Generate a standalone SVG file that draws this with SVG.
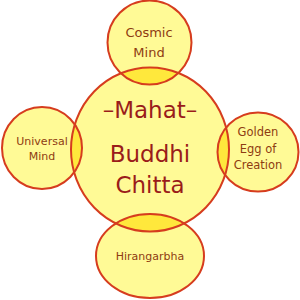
<svg xmlns="http://www.w3.org/2000/svg" width="300" height="300" viewBox="0 0 300 300">
  <style>
    .fill { fill: #FFFA96; stroke: none; }
    .lens { fill: #FFE83C; stroke: none; }
    .ring { fill: none; stroke: #D63C1E; stroke-width: 2; }
    .small { font-family: "DejaVu Sans", "Liberation Sans", sans-serif; fill: #8E3C12; text-anchor: middle; }
    .big { font-family: "DejaVu Sans", "Liberation Sans", sans-serif; fill: #9A1C1A; text-anchor: middle; }
  </style>
  <defs>
    <clipPath id="clipCenter"><ellipse cx="150" cy="149.5" rx="79" ry="82"/></clipPath>
  </defs>
  <rect width="300" height="300" fill="#FFFFFF"/>

  <!-- fills -->
  <g id="fills">
    <ellipse class="fill" cx="150" cy="149.5" rx="79" ry="82"/>
    <circle class="fill" cx="149.5" cy="42.5" r="42"/>
    <ellipse class="fill" cx="42" cy="148" rx="40" ry="41"/>
    <ellipse class="fill" cx="258" cy="152" rx="40.5" ry="39.5"/>
    <ellipse class="fill" cx="150" cy="256" rx="54" ry="42"/>
  </g>

  <!-- overlap lenses -->
  <g id="overlaps" clip-path="url(#clipCenter)">
    <circle class="lens" cx="149.5" cy="42.5" r="42"/>
    <ellipse class="lens" cx="42" cy="148" rx="40" ry="41"/>
    <ellipse class="lens" cx="258" cy="152" rx="40.5" ry="39.5"/>
    <ellipse class="lens" cx="150" cy="256" rx="54" ry="42"/>
  </g>

  <g id="mahat">
    <ellipse class="ring" cx="150" cy="149.5" rx="79" ry="82"/>
    <text class="big" x="150" y="118" font-size="23">–Mahat–</text>
    <text class="big" x="150" y="162" font-size="23">Buddhi</text>
    <text class="big" x="150" y="193" font-size="23">Chitta</text>
  </g>

  <g id="cosmic-mind">
    <circle class="ring" cx="149.5" cy="42.5" r="42"/>
    <text class="small" x="149" y="37" font-size="13">Cosmic</text>
    <text class="small" x="149" y="57" font-size="13">Mind</text>
  </g>

  <g id="universal-mind">
    <ellipse class="ring" cx="42" cy="148" rx="40" ry="41"/>
    <text class="small" x="42" y="145" font-size="11">Universal</text>
    <text class="small" x="42" y="160" font-size="11">Mind</text>
  </g>

  <g id="golden-egg">
    <ellipse class="ring" cx="258" cy="152" rx="40.5" ry="39.5"/>
    <text class="small" x="258" y="136" font-size="11.5">Golden</text>
    <text class="small" x="258" y="152.5" font-size="11.5">Egg of</text>
    <text class="small" x="258" y="169" font-size="11.5">Creation</text>
  </g>

  <g id="hirangarbha">
    <ellipse class="ring" cx="150" cy="256" rx="54" ry="42"/>
    <text class="small" x="150" y="260" font-size="11">Hirangarbha</text>
  </g>

  <g id="connectors"/>
</svg>
